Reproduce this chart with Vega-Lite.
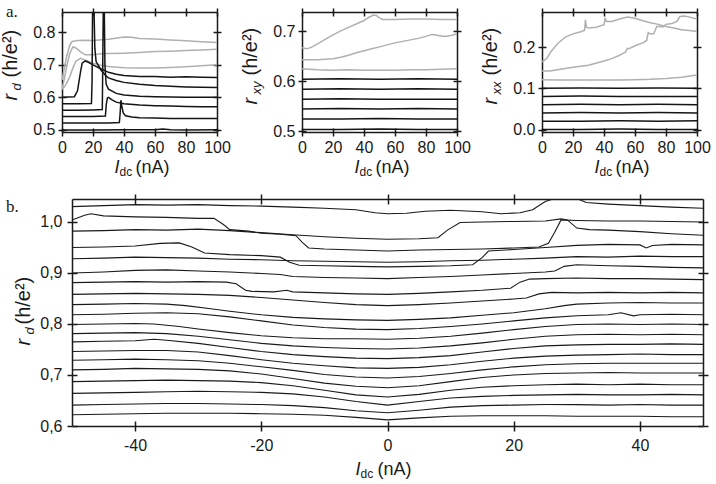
{
"$schema": "https://vega.github.io/schema/vega-lite/v6.json",
"padding": {"left": 0, "top": 3, "right": 5, "bottom": 0},
"background": "white",
"config": {
 "view": {"stroke": null},
 "font": "Liberation Sans",
 "axis": {"grid": false, "domainColor": "#1a1a1a", "domainWidth": 1.5, "tickColor": "#1a1a1a", "tickWidth": 1.5, "labelFont": "Liberation Sans", "labelFontSize": 16, "labelColor": "#1a1a1a", "titleFont": "Liberation Sans", "titleFontSize": 18, "titleFontWeight": "normal", "titleColor": "#1a1a1a", "titleAlign": "left", "titleBaseline": "alphabetic", "labelFlush": false, "labelOverlap": false}
},
"datasets": {
 "a1": [
  {"s":1,"grp":"upper","x":0,"y":0.653},{"s":1,"grp":"upper","x":1.5,"y":0.69},{"s":1,"grp":"upper","x":3,"y":0.726},{"s":1,"grp":"upper","x":5,"y":0.76},{"s":1,"grp":"upper","x":6.5,"y":0.772},{"s":1,"grp":"upper","x":10,"y":0.775},{"s":1,"grp":"upper","x":15,"y":0.776},{"s":1,"grp":"upper","x":20,"y":0.775},{"s":1,"grp":"upper","x":30,"y":0.779},{"s":1,"grp":"upper","x":40,"y":0.786},{"s":1,"grp":"upper","x":45,"y":0.785},{"s":1,"grp":"upper","x":50,"y":0.781},{"s":1,"grp":"upper","x":60,"y":0.78},{"s":1,"grp":"upper","x":70,"y":0.777},{"s":1,"grp":"upper","x":80,"y":0.774},{"s":1,"grp":"upper","x":90,"y":0.771},{"s":1,"grp":"upper","x":100,"y":0.769},
  {"s":2,"grp":"upper","x":0,"y":0.627},{"s":2,"grp":"upper","x":1.5,"y":0.655},{"s":2,"grp":"upper","x":3,"y":0.695},{"s":2,"grp":"upper","x":5,"y":0.735},{"s":2,"grp":"upper","x":7,"y":0.755},{"s":2,"grp":"upper","x":9,"y":0.752},{"s":2,"grp":"upper","x":12,"y":0.74},{"s":2,"grp":"upper","x":15,"y":0.731},{"s":2,"grp":"upper","x":20,"y":0.731},{"s":2,"grp":"upper","x":25,"y":0.734},{"s":2,"grp":"upper","x":30,"y":0.735},{"s":2,"grp":"upper","x":40,"y":0.736},{"s":2,"grp":"upper","x":50,"y":0.738},{"s":2,"grp":"upper","x":60,"y":0.741},{"s":2,"grp":"upper","x":70,"y":0.742},{"s":2,"grp":"upper","x":80,"y":0.744},{"s":2,"grp":"upper","x":90,"y":0.746},{"s":2,"grp":"upper","x":100,"y":0.748},
  {"s":3,"grp":"upper","x":0,"y":0.624},{"s":3,"grp":"upper","x":2,"y":0.635},{"s":3,"grp":"upper","x":5,"y":0.663},{"s":3,"grp":"upper","x":7,"y":0.69},{"s":3,"grp":"upper","x":9,"y":0.712},{"s":3,"grp":"upper","x":12,"y":0.72},{"s":3,"grp":"upper","x":16,"y":0.713},{"s":3,"grp":"upper","x":20,"y":0.705},{"s":3,"grp":"upper","x":25,"y":0.699},{"s":3,"grp":"upper","x":30,"y":0.695},{"s":3,"grp":"upper","x":40,"y":0.691},{"s":3,"grp":"upper","x":50,"y":0.69},{"s":3,"grp":"upper","x":60,"y":0.69},{"s":3,"grp":"upper","x":70,"y":0.692},{"s":3,"grp":"upper","x":80,"y":0.694},{"s":3,"grp":"upper","x":90,"y":0.697},{"s":3,"grp":"upper","x":100,"y":0.7},
  {"s":4,"grp":"lower","x":0,"y":0.6},{"s":4,"grp":"lower","x":4,"y":0.601},{"s":4,"grp":"lower","x":8,"y":0.602},{"s":4,"grp":"lower","x":10,"y":0.62},{"s":4,"grp":"lower","x":12,"y":0.68},{"s":4,"grp":"lower","x":13,"y":0.705},{"s":4,"grp":"lower","x":15,"y":0.712},{"s":4,"grp":"lower","x":17,"y":0.708},{"s":4,"grp":"lower","x":20,"y":0.7},{"s":4,"grp":"lower","x":25,"y":0.688},{"s":4,"grp":"lower","x":30,"y":0.677},{"s":4,"grp":"lower","x":35,"y":0.671},{"s":4,"grp":"lower","x":40,"y":0.667},{"s":4,"grp":"lower","x":50,"y":0.664},{"s":4,"grp":"lower","x":60,"y":0.664},{"s":4,"grp":"lower","x":70,"y":0.662},{"s":4,"grp":"lower","x":80,"y":0.663},{"s":4,"grp":"lower","x":90,"y":0.662},{"s":4,"grp":"lower","x":100,"y":0.661},
  {"s":5,"grp":"lower","x":0,"y":0.58},{"s":5,"grp":"lower","x":10,"y":0.58},{"s":5,"grp":"lower","x":19,"y":0.581},{"s":5,"grp":"lower","x":19.4,"y":0.65},{"s":5,"grp":"lower","x":19.7,"y":0.86},{"s":5,"grp":"lower","x":20.7,"y":0.86},{"s":5,"grp":"lower","x":21.2,"y":0.75},{"s":5,"grp":"lower","x":22,"y":0.71},{"s":5,"grp":"lower","x":25,"y":0.685},{"s":5,"grp":"lower","x":28,"y":0.668},{"s":5,"grp":"lower","x":30,"y":0.66},{"s":5,"grp":"lower","x":35,"y":0.652},{"s":5,"grp":"lower","x":40,"y":0.646},{"s":5,"grp":"lower","x":50,"y":0.64},{"s":5,"grp":"lower","x":60,"y":0.636},{"s":5,"grp":"lower","x":70,"y":0.634},{"s":5,"grp":"lower","x":80,"y":0.632},{"s":5,"grp":"lower","x":90,"y":0.631},{"s":5,"grp":"lower","x":100,"y":0.63},
  {"s":6,"grp":"lower","x":0,"y":0.56},{"s":6,"grp":"lower","x":10,"y":0.56},{"s":6,"grp":"lower","x":20,"y":0.561},{"s":6,"grp":"lower","x":26,"y":0.562},{"s":6,"grp":"lower","x":26.3,"y":0.7},{"s":6,"grp":"lower","x":26.6,"y":0.86},{"s":6,"grp":"lower","x":27.3,"y":0.86},{"s":6,"grp":"lower","x":27.7,"y":0.7},{"s":6,"grp":"lower","x":28.5,"y":0.64},{"s":6,"grp":"lower","x":30,"y":0.625},{"s":6,"grp":"lower","x":35,"y":0.612},{"s":6,"grp":"lower","x":40,"y":0.607},{"s":6,"grp":"lower","x":50,"y":0.603},{"s":6,"grp":"lower","x":60,"y":0.602},{"s":6,"grp":"lower","x":70,"y":0.601},{"s":6,"grp":"lower","x":80,"y":0.6},{"s":6,"grp":"lower","x":90,"y":0.6},{"s":6,"grp":"lower","x":100,"y":0.6},
  {"s":7,"grp":"lower","x":0,"y":0.541},{"s":7,"grp":"lower","x":10,"y":0.541},{"s":7,"grp":"lower","x":20,"y":0.541},{"s":7,"grp":"lower","x":28,"y":0.542},{"s":7,"grp":"lower","x":28.6,"y":0.58},{"s":7,"grp":"lower","x":29.3,"y":0.598},{"s":7,"grp":"lower","x":30,"y":0.6},{"s":7,"grp":"lower","x":32,"y":0.593},{"s":7,"grp":"lower","x":35,"y":0.585},{"s":7,"grp":"lower","x":40,"y":0.58},{"s":7,"grp":"lower","x":50,"y":0.576},{"s":7,"grp":"lower","x":60,"y":0.574},{"s":7,"grp":"lower","x":70,"y":0.573},{"s":7,"grp":"lower","x":80,"y":0.572},{"s":7,"grp":"lower","x":90,"y":0.571},{"s":7,"grp":"lower","x":100,"y":0.571},
  {"s":8,"grp":"lower","x":0,"y":0.521},{"s":8,"grp":"lower","x":10,"y":0.521},{"s":8,"grp":"lower","x":20,"y":0.521},{"s":8,"grp":"lower","x":30,"y":0.521},{"s":8,"grp":"lower","x":37,"y":0.522},{"s":8,"grp":"lower","x":37.5,"y":0.55},{"s":8,"grp":"lower","x":38,"y":0.591},{"s":8,"grp":"lower","x":38.5,"y":0.575},{"s":8,"grp":"lower","x":39.5,"y":0.552},{"s":8,"grp":"lower","x":41,"y":0.543},{"s":8,"grp":"lower","x":45,"y":0.539},{"s":8,"grp":"lower","x":50,"y":0.537},{"s":8,"grp":"lower","x":60,"y":0.536},{"s":8,"grp":"lower","x":70,"y":0.535},{"s":8,"grp":"lower","x":80,"y":0.535},{"s":8,"grp":"lower","x":90,"y":0.535},{"s":8,"grp":"lower","x":100,"y":0.535},
  {"s":9,"grp":"lower","x":0,"y":0.499},{"s":9,"grp":"lower","x":20,"y":0.499},{"s":9,"grp":"lower","x":40,"y":0.5},{"s":9,"grp":"lower","x":60,"y":0.5},{"s":9,"grp":"lower","x":65,"y":0.502},{"s":9,"grp":"lower","x":70,"y":0.5},{"s":9,"grp":"lower","x":80,"y":0.499},{"s":9,"grp":"lower","x":100,"y":0.5}
 ],
 "a2": [
  {"s":1,"grp":"upper","x":0,"y":0.667},{"s":1,"grp":"upper","x":3,"y":0.665},{"s":1,"grp":"upper","x":6,"y":0.668},{"s":1,"grp":"upper","x":10,"y":0.675},{"s":1,"grp":"upper","x":15,"y":0.684},{"s":1,"grp":"upper","x":20,"y":0.693},{"s":1,"grp":"upper","x":25,"y":0.701},{"s":1,"grp":"upper","x":30,"y":0.708},{"s":1,"grp":"upper","x":35,"y":0.715},{"s":1,"grp":"upper","x":40,"y":0.722},{"s":1,"grp":"upper","x":43,"y":0.728},{"s":1,"grp":"upper","x":46,"y":0.733},{"s":1,"grp":"upper","x":48,"y":0.732},{"s":1,"grp":"upper","x":50,"y":0.727},{"s":1,"grp":"upper","x":52,"y":0.724},{"s":1,"grp":"upper","x":60,"y":0.724},{"s":1,"grp":"upper","x":70,"y":0.725},{"s":1,"grp":"upper","x":80,"y":0.725},{"s":1,"grp":"upper","x":90,"y":0.724},{"s":1,"grp":"upper","x":100,"y":0.724},
  {"s":2,"grp":"upper","x":0,"y":0.643},{"s":2,"grp":"upper","x":5,"y":0.643},{"s":2,"grp":"upper","x":10,"y":0.643},{"s":2,"grp":"upper","x":15,"y":0.644},{"s":2,"grp":"upper","x":20,"y":0.645},{"s":2,"grp":"upper","x":25,"y":0.648},{"s":2,"grp":"upper","x":30,"y":0.652},{"s":2,"grp":"upper","x":35,"y":0.657},{"s":2,"grp":"upper","x":40,"y":0.661},{"s":2,"grp":"upper","x":45,"y":0.665},{"s":2,"grp":"upper","x":50,"y":0.669},{"s":2,"grp":"upper","x":55,"y":0.673},{"s":2,"grp":"upper","x":60,"y":0.677},{"s":2,"grp":"upper","x":65,"y":0.68},{"s":2,"grp":"upper","x":70,"y":0.683},{"s":2,"grp":"upper","x":75,"y":0.686},{"s":2,"grp":"upper","x":80,"y":0.69},{"s":2,"grp":"upper","x":84,"y":0.694},{"s":2,"grp":"upper","x":88,"y":0.692},{"s":2,"grp":"upper","x":92,"y":0.69},{"s":2,"grp":"upper","x":96,"y":0.692},{"s":2,"grp":"upper","x":100,"y":0.695},
  {"s":3,"grp":"upper","x":0,"y":0.625},{"s":3,"grp":"upper","x":5,"y":0.624},{"s":3,"grp":"upper","x":10,"y":0.623},{"s":3,"grp":"upper","x":20,"y":0.622},{"s":3,"grp":"upper","x":30,"y":0.623},{"s":3,"grp":"upper","x":40,"y":0.622},{"s":3,"grp":"upper","x":50,"y":0.622},{"s":3,"grp":"upper","x":60,"y":0.622},{"s":3,"grp":"upper","x":70,"y":0.623},{"s":3,"grp":"upper","x":80,"y":0.623},{"s":3,"grp":"upper","x":90,"y":0.624},{"s":3,"grp":"upper","x":100,"y":0.625},
  {"s":4,"grp":"lower","x":0,"y":0.604},{"s":4,"grp":"lower","x":25,"y":0.605},{"s":4,"grp":"lower","x":50,"y":0.604},{"s":4,"grp":"lower","x":75,"y":0.605},{"s":4,"grp":"lower","x":100,"y":0.604},
  {"s":5,"grp":"lower","x":0,"y":0.584},{"s":5,"grp":"lower","x":25,"y":0.585},{"s":5,"grp":"lower","x":50,"y":0.584},{"s":5,"grp":"lower","x":75,"y":0.585},{"s":5,"grp":"lower","x":100,"y":0.584},
  {"s":6,"grp":"lower","x":0,"y":0.564},{"s":6,"grp":"lower","x":25,"y":0.565},{"s":6,"grp":"lower","x":50,"y":0.564},{"s":6,"grp":"lower","x":75,"y":0.564},{"s":6,"grp":"lower","x":100,"y":0.564},
  {"s":7,"grp":"lower","x":0,"y":0.544},{"s":7,"grp":"lower","x":25,"y":0.545},{"s":7,"grp":"lower","x":50,"y":0.544},{"s":7,"grp":"lower","x":75,"y":0.545},{"s":7,"grp":"lower","x":100,"y":0.544},
  {"s":8,"grp":"lower","x":0,"y":0.524},{"s":8,"grp":"lower","x":25,"y":0.524},{"s":8,"grp":"lower","x":50,"y":0.525},{"s":8,"grp":"lower","x":75,"y":0.524},{"s":8,"grp":"lower","x":100,"y":0.524},
  {"s":9,"grp":"lower","x":0,"y":0.503},{"s":9,"grp":"lower","x":25,"y":0.503},{"s":9,"grp":"lower","x":50,"y":0.504},{"s":9,"grp":"lower","x":75,"y":0.503},{"s":9,"grp":"lower","x":100,"y":0.503}
 ],
 "a3": [
  {"s":1,"grp":"upper","x":0,"y":0.164},{"s":1,"grp":"upper","x":3,"y":0.172},{"s":1,"grp":"upper","x":6,"y":0.19},{"s":1,"grp":"upper","x":10,"y":0.208},{"s":1,"grp":"upper","x":15,"y":0.224},{"s":1,"grp":"upper","x":20,"y":0.232},{"s":1,"grp":"upper","x":25,"y":0.237},{"s":1,"grp":"upper","x":27.5,"y":0.241},{"s":1,"grp":"upper","x":28,"y":0.266},{"s":1,"grp":"upper","x":28.7,"y":0.248},{"s":1,"grp":"upper","x":30,"y":0.246},{"s":1,"grp":"upper","x":35,"y":0.248},{"s":1,"grp":"upper","x":40,"y":0.254},{"s":1,"grp":"upper","x":40.7,"y":0.271},{"s":1,"grp":"upper","x":41.5,"y":0.262},{"s":1,"grp":"upper","x":45,"y":0.262},{"s":1,"grp":"upper","x":50,"y":0.268},{"s":1,"grp":"upper","x":55,"y":0.273},{"s":1,"grp":"upper","x":60,"y":0.27},{"s":1,"grp":"upper","x":65,"y":0.264},{"s":1,"grp":"upper","x":70,"y":0.259},{"s":1,"grp":"upper","x":75,"y":0.255},{"s":1,"grp":"upper","x":80,"y":0.25},{"s":1,"grp":"upper","x":85,"y":0.246},{"s":1,"grp":"upper","x":90,"y":0.242},{"s":1,"grp":"upper","x":95,"y":0.24},{"s":1,"grp":"upper","x":100,"y":0.238},
  {"s":2,"grp":"upper","x":0,"y":0.142},{"s":2,"grp":"upper","x":5,"y":0.142},{"s":2,"grp":"upper","x":10,"y":0.145},{"s":2,"grp":"upper","x":20,"y":0.151},{"s":2,"grp":"upper","x":30,"y":0.156},{"s":2,"grp":"upper","x":40,"y":0.166},{"s":2,"grp":"upper","x":45,"y":0.172},{"s":2,"grp":"upper","x":50,"y":0.18},{"s":2,"grp":"upper","x":54,"y":0.188},{"s":2,"grp":"upper","x":55,"y":0.197},{"s":2,"grp":"upper","x":56,"y":0.196},{"s":2,"grp":"upper","x":60,"y":0.203},{"s":2,"grp":"upper","x":65,"y":0.21},{"s":2,"grp":"upper","x":67.5,"y":0.216},{"s":2,"grp":"upper","x":68.5,"y":0.235},{"s":2,"grp":"upper","x":69.5,"y":0.232},{"s":2,"grp":"upper","x":72,"y":0.232},{"s":2,"grp":"upper","x":73,"y":0.24},{"s":2,"grp":"upper","x":74,"y":0.25},{"s":2,"grp":"upper","x":76,"y":0.25},{"s":2,"grp":"upper","x":78,"y":0.249},{"s":2,"grp":"upper","x":80,"y":0.255},{"s":2,"grp":"upper","x":84,"y":0.257},{"s":2,"grp":"upper","x":87,"y":0.262},{"s":2,"grp":"upper","x":89,"y":0.274},{"s":2,"grp":"upper","x":92,"y":0.275},{"s":2,"grp":"upper","x":96,"y":0.272},{"s":2,"grp":"upper","x":100,"y":0.268},
  {"s":3,"grp":"upper","x":0,"y":0.121},{"s":3,"grp":"upper","x":10,"y":0.12},{"s":3,"grp":"upper","x":20,"y":0.12},{"s":3,"grp":"upper","x":30,"y":0.12},{"s":3,"grp":"upper","x":40,"y":0.12},{"s":3,"grp":"upper","x":50,"y":0.12},{"s":3,"grp":"upper","x":60,"y":0.121},{"s":3,"grp":"upper","x":70,"y":0.122},{"s":3,"grp":"upper","x":80,"y":0.124},{"s":3,"grp":"upper","x":90,"y":0.127},{"s":3,"grp":"upper","x":100,"y":0.132},
  {"s":4,"grp":"lower","x":0,"y":0.1},{"s":4,"grp":"lower","x":25,"y":0.101},{"s":4,"grp":"lower","x":50,"y":0.1},{"s":4,"grp":"lower","x":75,"y":0.101},{"s":4,"grp":"lower","x":100,"y":0.1},
  {"s":5,"grp":"lower","x":0,"y":0.08},{"s":5,"grp":"lower","x":25,"y":0.081},{"s":5,"grp":"lower","x":50,"y":0.08},{"s":5,"grp":"lower","x":75,"y":0.08},{"s":5,"grp":"lower","x":100,"y":0.08},
  {"s":6,"grp":"lower","x":0,"y":0.06},{"s":6,"grp":"lower","x":25,"y":0.061},{"s":6,"grp":"lower","x":50,"y":0.06},{"s":6,"grp":"lower","x":75,"y":0.061},{"s":6,"grp":"lower","x":100,"y":0.06},
  {"s":7,"grp":"lower","x":0,"y":0.04},{"s":7,"grp":"lower","x":25,"y":0.041},{"s":7,"grp":"lower","x":50,"y":0.04},{"s":7,"grp":"lower","x":75,"y":0.041},{"s":7,"grp":"lower","x":100,"y":0.04},
  {"s":8,"grp":"lower","x":0,"y":0.02},{"s":8,"grp":"lower","x":25,"y":0.02},{"s":8,"grp":"lower","x":50,"y":0.021},{"s":8,"grp":"lower","x":75,"y":0.02},{"s":8,"grp":"lower","x":100,"y":0.021},
  {"s":9,"grp":"lower","x":0,"y":0},{"s":9,"grp":"lower","x":25,"y":0},{"s":9,"grp":"lower","x":50,"y":0.001},{"s":9,"grp":"lower","x":75,"y":0},{"s":9,"grp":"lower","x":100,"y":0}
 ],
 "b": [
  {"s":1,"x":-50,"y":1.03},{"s":1,"x":-45,"y":1.032},{"s":1,"x":-40,"y":1.034},{"s":1,"x":-35,"y":1.033},{"s":1,"x":-30,"y":1.034},{"s":1,"x":-25,"y":1.032},{"s":1,"x":-20,"y":1.031},{"s":1,"x":-15,"y":1.029},{"s":1,"x":-10,"y":1.027},{"s":1,"x":-5,"y":1.024},{"s":1,"x":-2,"y":1.018},{"s":1,"x":0,"y":1.016},{"s":1,"x":3,"y":1.017},{"s":1,"x":6,"y":1.021},{"s":1,"x":10,"y":1.023},{"s":1,"x":15,"y":1.02},{"s":1,"x":18,"y":1.016},{"s":1,"x":21,"y":1.018},{"s":1,"x":23,"y":1.024},{"s":1,"x":25,"y":1.04},{"s":1,"x":26.5,"y":1.046},{"s":1,"x":30,"y":1.046},{"s":1,"x":31.5,"y":1.038},{"s":1,"x":35,"y":1.035},{"s":1,"x":40,"y":1.032},{"s":1,"x":45,"y":1.029},{"s":1,"x":50,"y":1.027},
  {"s":2,"x":-50,"y":1.004},{"s":2,"x":-48,"y":1.013},{"s":2,"x":-47,"y":1.016},{"s":2,"x":-45,"y":1.012},{"s":2,"x":-40,"y":1.01},{"s":2,"x":-35,"y":1.009},{"s":2,"x":-30,"y":1.007},{"s":2,"x":-27.5,"y":1.007},{"s":2,"x":-26,"y":0.995},{"s":2,"x":-25,"y":0.985},{"s":2,"x":-22,"y":0.982},{"s":2,"x":-20,"y":0.978},{"s":2,"x":-17,"y":0.976},{"s":2,"x":-14.5,"y":0.973},{"s":2,"x":-13.5,"y":0.96},{"s":2,"x":-12.5,"y":0.949},{"s":2,"x":-10,"y":0.947},{"s":2,"x":-5,"y":0.945},{"s":2,"x":0,"y":0.943},{"s":2,"x":5,"y":0.945},{"s":2,"x":10,"y":0.946},{"s":2,"x":15,"y":0.947},{"s":2,"x":20,"y":0.949},{"s":2,"x":24,"y":0.951},{"s":2,"x":25.5,"y":0.958},{"s":2,"x":26.5,"y":0.98},{"s":2,"x":27.5,"y":1.004},{"s":2,"x":30,"y":1.003},{"s":2,"x":35,"y":1.002},{"s":2,"x":40,"y":1.002},{"s":2,"x":45,"y":1.001},{"s":2,"x":50,"y":1.0},
  {"s":3,"x":-50,"y":0.982},{"s":3,"x":-45,"y":0.983},{"s":3,"x":-40,"y":0.985},{"s":3,"x":-35,"y":0.984},{"s":3,"x":-30,"y":0.986},{"s":3,"x":-25,"y":0.983},{"s":3,"x":-20,"y":0.979},{"s":3,"x":-15,"y":0.975},{"s":3,"x":-10,"y":0.971},{"s":3,"x":-5,"y":0.968},{"s":3,"x":0,"y":0.966},{"s":3,"x":5,"y":0.967},{"s":3,"x":8,"y":0.969},{"s":3,"x":9.5,"y":0.984},{"s":3,"x":11.5,"y":0.999},{"s":3,"x":15,"y":1.0},{"s":3,"x":20,"y":1.001},{"s":3,"x":25,"y":1.002},{"s":3,"x":27.5,"y":1.006},{"s":3,"x":28.5,"y":1.004},{"s":3,"x":30,"y":0.988},{"s":3,"x":32,"y":0.985},{"s":3,"x":35,"y":0.984},{"s":3,"x":40,"y":0.981},{"s":3,"x":45,"y":0.977},{"s":3,"x":50,"y":0.974},
  {"s":4,"x":-50,"y":0.95},{"s":4,"x":-45,"y":0.951},{"s":4,"x":-40,"y":0.953},{"s":4,"x":-36,"y":0.958},{"s":4,"x":-33,"y":0.959},{"s":4,"x":-31,"y":0.951},{"s":4,"x":-29,"y":0.939},{"s":4,"x":-25,"y":0.936},{"s":4,"x":-20,"y":0.934},{"s":4,"x":-17,"y":0.931},{"s":4,"x":-15.5,"y":0.921},{"s":4,"x":-14,"y":0.915},{"s":4,"x":-10,"y":0.914},{"s":4,"x":-5,"y":0.913},{"s":4,"x":0,"y":0.912},{"s":4,"x":5,"y":0.913},{"s":4,"x":10,"y":0.914},{"s":4,"x":13.5,"y":0.916},{"s":4,"x":15,"y":0.93},{"s":4,"x":16,"y":0.943},{"s":4,"x":20,"y":0.946},{"s":4,"x":25,"y":0.95},{"s":4,"x":30,"y":0.954},{"s":4,"x":35,"y":0.956},{"s":4,"x":40,"y":0.955},{"s":4,"x":41,"y":0.949},{"s":4,"x":42,"y":0.954},{"s":4,"x":45,"y":0.956},{"s":4,"x":50,"y":0.955},
  {"s":5,"x":-50,"y":0.928},{"s":5,"x":-45,"y":0.929},{"s":5,"x":-40,"y":0.931},{"s":5,"x":-35,"y":0.93},{"s":5,"x":-30,"y":0.929},{"s":5,"x":-25,"y":0.927},{"s":5,"x":-20,"y":0.926},{"s":5,"x":-15,"y":0.924},{"s":5,"x":-10,"y":0.923},{"s":5,"x":-5,"y":0.922},{"s":5,"x":0,"y":0.921},{"s":5,"x":5,"y":0.922},{"s":5,"x":10,"y":0.924},{"s":5,"x":15,"y":0.925},{"s":5,"x":20,"y":0.927},{"s":5,"x":25,"y":0.929},{"s":5,"x":30,"y":0.932},{"s":5,"x":35,"y":0.931},{"s":5,"x":40,"y":0.933},{"s":5,"x":45,"y":0.932},{"s":5,"x":50,"y":0.932},
  {"s":6,"x":-50,"y":0.9},{"s":6,"x":-45,"y":0.902},{"s":6,"x":-40,"y":0.905},{"s":6,"x":-35,"y":0.906},{"s":6,"x":-30,"y":0.904},{"s":6,"x":-25,"y":0.902},{"s":6,"x":-20,"y":0.899},{"s":6,"x":-17,"y":0.897},{"s":6,"x":-15,"y":0.893},{"s":6,"x":-10,"y":0.891},{"s":6,"x":-5,"y":0.89},{"s":6,"x":0,"y":0.889},{"s":6,"x":5,"y":0.891},{"s":6,"x":10,"y":0.893},{"s":6,"x":15,"y":0.896},{"s":6,"x":20,"y":0.899},{"s":6,"x":25,"y":0.902},{"s":6,"x":26.5,"y":0.904},{"s":6,"x":28,"y":0.913},{"s":6,"x":30,"y":0.916},{"s":6,"x":35,"y":0.914},{"s":6,"x":40,"y":0.913},{"s":6,"x":45,"y":0.911},{"s":6,"x":50,"y":0.91},
  {"s":7,"x":-50,"y":0.881},{"s":7,"x":-45,"y":0.882},{"s":7,"x":-40,"y":0.883},{"s":7,"x":-35,"y":0.882},{"s":7,"x":-30,"y":0.883},{"s":7,"x":-25.5,"y":0.882},{"s":7,"x":-24,"y":0.879},{"s":7,"x":-22.5,"y":0.866},{"s":7,"x":-21.5,"y":0.864},{"s":7,"x":-18,"y":0.863},{"s":7,"x":-16,"y":0.866},{"s":7,"x":-15,"y":0.863},{"s":7,"x":-10,"y":0.861},{"s":7,"x":-5,"y":0.859},{"s":7,"x":0,"y":0.858},{"s":7,"x":5,"y":0.86},{"s":7,"x":10,"y":0.863},{"s":7,"x":15,"y":0.866},{"s":7,"x":19.5,"y":0.87},{"s":7,"x":21,"y":0.882},{"s":7,"x":22.5,"y":0.888},{"s":7,"x":25,"y":0.889},{"s":7,"x":30,"y":0.89},{"s":7,"x":35,"y":0.889},{"s":7,"x":40,"y":0.889},{"s":7,"x":45,"y":0.888},{"s":7,"x":50,"y":0.887},
  {"s":8,"x":-50,"y":0.858},{"s":8,"x":-45,"y":0.859},{"s":8,"x":-40,"y":0.86},{"s":8,"x":-35,"y":0.859},{"s":8,"x":-30,"y":0.858},{"s":8,"x":-25,"y":0.856},{"s":8,"x":-20,"y":0.852},{"s":8,"x":-15,"y":0.847},{"s":8,"x":-10,"y":0.842},{"s":8,"x":-5,"y":0.838},{"s":8,"x":0,"y":0.836},{"s":8,"x":5,"y":0.838},{"s":8,"x":10,"y":0.841},{"s":8,"x":15,"y":0.845},{"s":8,"x":20,"y":0.849},{"s":8,"x":22,"y":0.851},{"s":8,"x":24,"y":0.859},{"s":8,"x":26,"y":0.862},{"s":8,"x":30,"y":0.861},{"s":8,"x":35,"y":0.862},{"s":8,"x":40,"y":0.861},{"s":8,"x":45,"y":0.862},{"s":8,"x":50,"y":0.861},
  {"s":9,"x":-50,"y":0.838},{"s":9,"x":-45,"y":0.839},{"s":9,"x":-40,"y":0.84},{"s":9,"x":-35,"y":0.839},{"s":9,"x":-32,"y":0.836},{"s":9,"x":-28,"y":0.83},{"s":9,"x":-25,"y":0.825},{"s":9,"x":-20,"y":0.818},{"s":9,"x":-15,"y":0.813},{"s":9,"x":-10,"y":0.81},{"s":9,"x":-5,"y":0.808},{"s":9,"x":0,"y":0.807},{"s":9,"x":5,"y":0.809},{"s":9,"x":10,"y":0.812},{"s":9,"x":15,"y":0.817},{"s":9,"x":20,"y":0.822},{"s":9,"x":25,"y":0.83},{"s":9,"x":28,"y":0.836},{"s":9,"x":30,"y":0.839},{"s":9,"x":35,"y":0.841},{"s":9,"x":40,"y":0.842},{"s":9,"x":45,"y":0.841},{"s":9,"x":50,"y":0.841},
  {"s":10,"x":-50,"y":0.818},{"s":10,"x":-45,"y":0.819},{"s":10,"x":-40,"y":0.821},{"s":10,"x":-35,"y":0.822},{"s":10,"x":-30,"y":0.82},{"s":10,"x":-25,"y":0.814},{"s":10,"x":-20,"y":0.806},{"s":10,"x":-15,"y":0.798},{"s":10,"x":-10,"y":0.793},{"s":10,"x":-5,"y":0.79},{"s":10,"x":0,"y":0.789},{"s":10,"x":5,"y":0.791},{"s":10,"x":10,"y":0.795},{"s":10,"x":15,"y":0.8},{"s":10,"x":20,"y":0.806},{"s":10,"x":25,"y":0.812},{"s":10,"x":30,"y":0.816},{"s":10,"x":35,"y":0.818},{"s":10,"x":37,"y":0.822},{"s":10,"x":39,"y":0.816},{"s":10,"x":40,"y":0.818},{"s":10,"x":45,"y":0.819},{"s":10,"x":50,"y":0.818},
  {"s":11,"x":-50,"y":0.799},{"s":11,"x":-45,"y":0.8},{"s":11,"x":-40,"y":0.801},{"s":11,"x":-37,"y":0.8},{"s":11,"x":-33,"y":0.795},{"s":11,"x":-30,"y":0.79},{"s":11,"x":-25,"y":0.783},{"s":11,"x":-20,"y":0.777},{"s":11,"x":-15,"y":0.773},{"s":11,"x":-10,"y":0.771},{"s":11,"x":-5,"y":0.771},{"s":11,"x":0,"y":0.77},{"s":11,"x":5,"y":0.772},{"s":11,"x":10,"y":0.776},{"s":11,"x":15,"y":0.782},{"s":11,"x":20,"y":0.789},{"s":11,"x":25,"y":0.795},{"s":11,"x":30,"y":0.799},{"s":11,"x":35,"y":0.8},{"s":11,"x":40,"y":0.799},{"s":11,"x":45,"y":0.8},{"s":11,"x":50,"y":0.799},
  {"s":12,"x":-50,"y":0.781},{"s":12,"x":-45,"y":0.782},{"s":12,"x":-40,"y":0.783},{"s":12,"x":-35,"y":0.781},{"s":12,"x":-30,"y":0.776},{"s":12,"x":-25,"y":0.769},{"s":12,"x":-20,"y":0.762},{"s":12,"x":-15,"y":0.757},{"s":12,"x":-10,"y":0.754},{"s":12,"x":-5,"y":0.752},{"s":12,"x":0,"y":0.751},{"s":12,"x":5,"y":0.753},{"s":12,"x":10,"y":0.757},{"s":12,"x":15,"y":0.763},{"s":12,"x":20,"y":0.77},{"s":12,"x":25,"y":0.776},{"s":12,"x":30,"y":0.779},{"s":12,"x":35,"y":0.78},{"s":12,"x":40,"y":0.779},{"s":12,"x":45,"y":0.78},{"s":12,"x":50,"y":0.779},
  {"s":13,"x":-50,"y":0.765},{"s":13,"x":-45,"y":0.766},{"s":13,"x":-40,"y":0.767},{"s":13,"x":-37,"y":0.77},{"s":13,"x":-35,"y":0.768},{"s":13,"x":-30,"y":0.762},{"s":13,"x":-25,"y":0.754},{"s":13,"x":-20,"y":0.746},{"s":13,"x":-15,"y":0.74},{"s":13,"x":-10,"y":0.736},{"s":13,"x":-5,"y":0.733},{"s":13,"x":0,"y":0.732},{"s":13,"x":5,"y":0.734},{"s":13,"x":10,"y":0.738},{"s":13,"x":15,"y":0.745},{"s":13,"x":20,"y":0.752},{"s":13,"x":25,"y":0.757},{"s":13,"x":30,"y":0.759},{"s":13,"x":35,"y":0.76},{"s":13,"x":40,"y":0.76},{"s":13,"x":45,"y":0.761},{"s":13,"x":50,"y":0.76},
  {"s":14,"x":-50,"y":0.746},{"s":14,"x":-45,"y":0.747},{"s":14,"x":-40,"y":0.748},{"s":14,"x":-35,"y":0.748},{"s":14,"x":-30,"y":0.745},{"s":14,"x":-25,"y":0.738},{"s":14,"x":-20,"y":0.73},{"s":14,"x":-15,"y":0.723},{"s":14,"x":-10,"y":0.718},{"s":14,"x":-5,"y":0.714},{"s":14,"x":0,"y":0.713},{"s":14,"x":5,"y":0.715},{"s":14,"x":10,"y":0.72},{"s":14,"x":15,"y":0.727},{"s":14,"x":20,"y":0.733},{"s":14,"x":25,"y":0.737},{"s":14,"x":30,"y":0.739},{"s":14,"x":35,"y":0.74},{"s":14,"x":40,"y":0.741},{"s":14,"x":45,"y":0.74},{"s":14,"x":50,"y":0.74},
  {"s":15,"x":-50,"y":0.729},{"s":15,"x":-45,"y":0.73},{"s":15,"x":-40,"y":0.731},{"s":15,"x":-35,"y":0.73},{"s":15,"x":-30,"y":0.728},{"s":15,"x":-25,"y":0.723},{"s":15,"x":-20,"y":0.716},{"s":15,"x":-15,"y":0.709},{"s":15,"x":-10,"y":0.701},{"s":15,"x":-5,"y":0.696},{"s":15,"x":0,"y":0.694},{"s":15,"x":5,"y":0.697},{"s":15,"x":10,"y":0.703},{"s":15,"x":15,"y":0.71},{"s":15,"x":20,"y":0.716},{"s":15,"x":25,"y":0.72},{"s":15,"x":30,"y":0.722},{"s":15,"x":35,"y":0.723},{"s":15,"x":40,"y":0.723},{"s":15,"x":45,"y":0.723},{"s":15,"x":50,"y":0.723},
  {"s":16,"x":-50,"y":0.71},{"s":16,"x":-45,"y":0.711},{"s":16,"x":-40,"y":0.713},{"s":16,"x":-35,"y":0.712},{"s":16,"x":-30,"y":0.711},{"s":16,"x":-25,"y":0.708},{"s":16,"x":-20,"y":0.702},{"s":16,"x":-15,"y":0.693},{"s":16,"x":-10,"y":0.684},{"s":16,"x":-5,"y":0.678},{"s":16,"x":0,"y":0.675},{"s":16,"x":5,"y":0.679},{"s":16,"x":10,"y":0.687},{"s":16,"x":15,"y":0.695},{"s":16,"x":20,"y":0.7},{"s":16,"x":25,"y":0.703},{"s":16,"x":30,"y":0.704},{"s":16,"x":35,"y":0.705},{"s":16,"x":40,"y":0.704},{"s":16,"x":45,"y":0.704},{"s":16,"x":50,"y":0.704},
  {"s":17,"x":-50,"y":0.687},{"s":17,"x":-45,"y":0.688},{"s":17,"x":-40,"y":0.689},{"s":17,"x":-35,"y":0.69},{"s":17,"x":-30,"y":0.689},{"s":17,"x":-25,"y":0.688},{"s":17,"x":-20,"y":0.685},{"s":17,"x":-15,"y":0.679},{"s":17,"x":-10,"y":0.67},{"s":17,"x":-5,"y":0.661},{"s":17,"x":0,"y":0.657},{"s":17,"x":5,"y":0.662},{"s":17,"x":10,"y":0.67},{"s":17,"x":15,"y":0.676},{"s":17,"x":20,"y":0.679},{"s":17,"x":25,"y":0.681},{"s":17,"x":30,"y":0.682},{"s":17,"x":35,"y":0.681},{"s":17,"x":40,"y":0.682},{"s":17,"x":45,"y":0.681},{"s":17,"x":50,"y":0.681},
  {"s":18,"x":-50,"y":0.664},{"s":18,"x":-45,"y":0.665},{"s":18,"x":-40,"y":0.666},{"s":18,"x":-35,"y":0.667},{"s":18,"x":-30,"y":0.668},{"s":18,"x":-25,"y":0.667},{"s":18,"x":-20,"y":0.666},{"s":18,"x":-15,"y":0.663},{"s":18,"x":-10,"y":0.657},{"s":18,"x":-5,"y":0.648},{"s":18,"x":0,"y":0.641},{"s":18,"x":5,"y":0.648},{"s":18,"x":10,"y":0.655},{"s":18,"x":15,"y":0.658},{"s":18,"x":20,"y":0.66},{"s":18,"x":25,"y":0.661},{"s":18,"x":30,"y":0.662},{"s":18,"x":35,"y":0.661},{"s":18,"x":40,"y":0.661},{"s":18,"x":45,"y":0.662},{"s":18,"x":50,"y":0.661},
  {"s":19,"x":-50,"y":0.641},{"s":19,"x":-45,"y":0.642},{"s":19,"x":-40,"y":0.643},{"s":19,"x":-35,"y":0.644},{"s":19,"x":-30,"y":0.644},{"s":19,"x":-25,"y":0.643},{"s":19,"x":-20,"y":0.642},{"s":19,"x":-15,"y":0.64},{"s":19,"x":-10,"y":0.636},{"s":19,"x":-5,"y":0.63},{"s":19,"x":0,"y":0.626},{"s":19,"x":5,"y":0.631},{"s":19,"x":10,"y":0.637},{"s":19,"x":15,"y":0.64},{"s":19,"x":20,"y":0.641},{"s":19,"x":25,"y":0.642},{"s":19,"x":30,"y":0.642},{"s":19,"x":35,"y":0.641},{"s":19,"x":40,"y":0.642},{"s":19,"x":45,"y":0.641},{"s":19,"x":50,"y":0.641},
  {"s":20,"x":-50,"y":0.622},{"s":20,"x":-45,"y":0.623},{"s":20,"x":-40,"y":0.624},{"s":20,"x":-35,"y":0.625},{"s":20,"x":-30,"y":0.625},{"s":20,"x":-25,"y":0.625},{"s":20,"x":-20,"y":0.624},{"s":20,"x":-15,"y":0.623},{"s":20,"x":-10,"y":0.621},{"s":20,"x":-5,"y":0.617},{"s":20,"x":0,"y":0.612},{"s":20,"x":5,"y":0.616},{"s":20,"x":10,"y":0.619},{"s":20,"x":15,"y":0.62},{"s":20,"x":20,"y":0.62},{"s":20,"x":25,"y":0.62},{"s":20,"x":30,"y":0.619},{"s":20,"x":35,"y":0.619},{"s":20,"x":40,"y":0.619},{"s":20,"x":45,"y":0.618},{"s":20,"x":50,"y":0.618}
 ]
},
"vconcat": [
 {"hconcat": [
  {"width": 155, "height": 120, "data": {"name": "a1"},
   "title": {"text": "a.", "anchor": "start", "frame": "group", "dx": -56, "dy": 27, "offset": 0, "font": "Liberation Serif", "fontSize": 17, "fontWeight": "normal", "color": "#1a1a1a", "baseline": "alphabetic"},
   "layer": [
    {"mark": {"type": "line", "strokeWidth": 1.5, "clip": true},
     "encoding": {
      "x": {"field": "x", "type": "quantitative", "scale": {"domain": [0, 100], "nice": false, "zero": false}, "axis": {"orient": "bottom", "values": [0,20,40,60,80,100], "tickSize": 4, "labelPadding": 3, "title": "I", "titleFontStyle": "italic", "titleX": 52, "titleY": 40}},
      "y": {"field": "y", "type": "quantitative", "scale": {"domain": [0.493, 0.863], "nice": false, "zero": false}, "axis": {"orient": "left", "values": [0.5,0.6,0.7,0.8], "format": ".1f", "tickSize": 4, "labelPadding": 3, "title": "r", "titleFontSize": 20, "titleFontStyle": "italic", "titleAngle": 270, "titleX": -46, "titleY": 88}},
      "color": {"field": "grp", "type": "nominal", "scale": {"domain": ["upper", "lower"], "range": ["#b0b0b0", "#151515"]}, "legend": null},
      "detail": {"field": "s"}}},
    {"mark": {"type": "line", "strokeOpacity": 0},
     "encoding": {
      "x": {"field": "x", "type": "quantitative", "scale": {"domain": [0, 100], "nice": false, "zero": false}, "axis": {"orient": "bottom", "values": [0,20,40,60,80,100], "tickSize": -4, "labels": false, "domain": false, "title": "dc", "titleFontSize": 12, "titleX": 57, "titleY": 43}},
      "y": {"field": "y", "type": "quantitative", "scale": {"domain": [0.493, 0.863], "nice": false, "zero": false}, "axis": {"orient": "left", "values": [0.5,0.6,0.7,0.8], "tickSize": -4, "labels": false, "domain": false, "title": "d", "titleFontSize": 13, "titleFontStyle": "italic", "titleAngle": 270, "titleX": -42, "titleY": 78}},
      "detail": {"field": "s"}}},
    {"mark": {"type": "line", "strokeOpacity": 0},
     "encoding": {
      "x": {"field": "x", "type": "quantitative", "scale": {"domain": [0, 100], "nice": false, "zero": false}, "axis": {"orient": "top", "values": [0,20,40,60,80,100], "tickSize": 4, "labels": false, "title": "(nA)", "titleX": 73, "titleY": 160}},
      "y": {"field": "y", "type": "quantitative", "scale": {"domain": [0.493, 0.863], "nice": false, "zero": false}, "axis": {"orient": "right", "values": [0.5,0.6,0.7,0.8], "tickSize": 4, "labels": false, "title": "(h/e²)", "titleFontSize": 20, "titleAngle": 270, "titleX": -201, "titleY": 65}},
      "detail": {"field": "s"}}},
    {"mark": {"type": "line", "strokeOpacity": 0},
     "encoding": {
      "x": {"field": "x", "type": "quantitative", "scale": {"domain": [0, 100], "nice": false, "zero": false}, "axis": {"orient": "top", "values": [0,20,40,60,80,100], "tickSize": -4, "labels": false, "domain": false, "title": null}},
      "y": {"field": "y", "type": "quantitative", "scale": {"domain": [0.493, 0.863], "nice": false, "zero": false}, "axis": {"orient": "right", "values": [0.5,0.6,0.7,0.8], "tickSize": -4, "labels": false, "domain": false, "title": null}},
      "detail": {"field": "s"}}}
   ],
   "resolve": {"axis": {"x": "independent", "y": "independent"}}
  },
  {"width": 155, "height": 120, "data": {"name": "a2"},
   "layer": [
    {"mark": {"type": "line", "strokeWidth": 1.5, "clip": true},
     "encoding": {
      "x": {"field": "x", "type": "quantitative", "scale": {"domain": [0, 100], "nice": false, "zero": false}, "axis": {"orient": "bottom", "values": [0,20,40,60,80,100], "tickSize": 4, "labelPadding": 3, "title": "I", "titleFontStyle": "italic", "titleX": 52, "titleY": 40}},
      "y": {"field": "y", "type": "quantitative", "scale": {"domain": [0.498, 0.739], "nice": false, "zero": false}, "axis": {"orient": "left", "values": [0.5,0.6,0.7], "format": ".1f", "tickSize": 4, "labelPadding": 3, "title": "r", "titleFontSize": 20, "titleFontStyle": "italic", "titleAngle": 270, "titleX": -46, "titleY": 92}},
      "color": {"field": "grp", "type": "nominal", "scale": {"domain": ["upper", "lower"], "range": ["#b0b0b0", "#151515"]}, "legend": null},
      "detail": {"field": "s"}}},
    {"mark": {"type": "line", "strokeOpacity": 0},
     "encoding": {
      "x": {"field": "x", "type": "quantitative", "scale": {"domain": [0, 100], "nice": false, "zero": false}, "axis": {"orient": "bottom", "values": [0,20,40,60,80,100], "tickSize": -4, "labels": false, "domain": false, "title": "dc", "titleFontSize": 12, "titleX": 57, "titleY": 43}},
      "y": {"field": "y", "type": "quantitative", "scale": {"domain": [0.498, 0.739], "nice": false, "zero": false}, "axis": {"orient": "left", "values": [0.5,0.6,0.7], "tickSize": -4, "labels": false, "domain": false, "title": "xy", "titleFontSize": 13, "titleFontStyle": "italic", "titleAngle": 270, "titleX": -42, "titleY": 82}},
      "detail": {"field": "s"}}},
    {"mark": {"type": "line", "strokeOpacity": 0},
     "encoding": {
      "x": {"field": "x", "type": "quantitative", "scale": {"domain": [0, 100], "nice": false, "zero": false}, "axis": {"orient": "top", "values": [0,20,40,60,80,100], "tickSize": 4, "labels": false, "title": "(nA)", "titleX": 73, "titleY": 160}},
      "y": {"field": "y", "type": "quantitative", "scale": {"domain": [0.498, 0.739], "nice": false, "zero": false}, "axis": {"orient": "right", "values": [0.5,0.6,0.7], "tickSize": 4, "labels": false, "title": "(h/e²)", "titleFontSize": 20, "titleAngle": 270, "titleX": -201, "titleY": 63}},
      "detail": {"field": "s"}}},
    {"mark": {"type": "line", "strokeOpacity": 0},
     "encoding": {
      "x": {"field": "x", "type": "quantitative", "scale": {"domain": [0, 100], "nice": false, "zero": false}, "axis": {"orient": "top", "values": [0,20,40,60,80,100], "tickSize": -4, "labels": false, "domain": false, "title": null}},
      "y": {"field": "y", "type": "quantitative", "scale": {"domain": [0.498, 0.739], "nice": false, "zero": false}, "axis": {"orient": "right", "values": [0.5,0.6,0.7], "tickSize": -4, "labels": false, "domain": false, "title": null}},
      "detail": {"field": "s"}}}
   ],
   "resolve": {"axis": {"x": "independent", "y": "independent"}}
  },
  {"width": 155, "height": 120, "data": {"name": "a3"},
   "layer": [
    {"mark": {"type": "line", "strokeWidth": 1.5, "clip": true},
     "encoding": {
      "x": {"field": "x", "type": "quantitative", "scale": {"domain": [0, 100], "nice": false, "zero": false}, "axis": {"orient": "bottom", "values": [0,20,40,60,80,100], "tickSize": 4, "labelPadding": 3, "title": "I", "titleFontStyle": "italic", "titleX": 52, "titleY": 40}},
      "y": {"field": "y", "type": "quantitative", "scale": {"domain": [-0.006, 0.285], "nice": false, "zero": false}, "axis": {"orient": "left", "values": [0,0.1,0.2], "format": ".1f", "tickSize": 4, "labelPadding": 3, "title": "r", "titleFontSize": 20, "titleFontStyle": "italic", "titleAngle": 270, "titleX": -46, "titleY": 92}},
      "color": {"field": "grp", "type": "nominal", "scale": {"domain": ["upper", "lower"], "range": ["#b0b0b0", "#151515"]}, "legend": null},
      "detail": {"field": "s"}}},
    {"mark": {"type": "line", "strokeOpacity": 0},
     "encoding": {
      "x": {"field": "x", "type": "quantitative", "scale": {"domain": [0, 100], "nice": false, "zero": false}, "axis": {"orient": "bottom", "values": [0,20,40,60,80,100], "tickSize": -4, "labels": false, "domain": false, "title": "dc", "titleFontSize": 12, "titleX": 57, "titleY": 43}},
      "y": {"field": "y", "type": "quantitative", "scale": {"domain": [-0.006, 0.285], "nice": false, "zero": false}, "axis": {"orient": "left", "values": [0,0.1,0.2], "tickSize": -4, "labels": false, "domain": false, "title": "xx", "titleFontSize": 13, "titleFontStyle": "italic", "titleAngle": 270, "titleX": -42, "titleY": 82}},
      "detail": {"field": "s"}}},
    {"mark": {"type": "line", "strokeOpacity": 0},
     "encoding": {
      "x": {"field": "x", "type": "quantitative", "scale": {"domain": [0, 100], "nice": false, "zero": false}, "axis": {"orient": "top", "values": [0,20,40,60,80,100], "tickSize": 4, "labels": false, "title": "(nA)", "titleX": 73, "titleY": 160}},
      "y": {"field": "y", "type": "quantitative", "scale": {"domain": [-0.006, 0.285], "nice": false, "zero": false}, "axis": {"orient": "right", "values": [0,0.1,0.2], "tickSize": 4, "labels": false, "title": "(h/e²)", "titleFontSize": 20, "titleAngle": 270, "titleX": -201, "titleY": 63}},
      "detail": {"field": "s"}}},
    {"mark": {"type": "line", "strokeOpacity": 0},
     "encoding": {
      "x": {"field": "x", "type": "quantitative", "scale": {"domain": [0, 100], "nice": false, "zero": false}, "axis": {"orient": "top", "values": [0,20,40,60,80,100], "tickSize": -4, "labels": false, "domain": false, "title": null}},
      "y": {"field": "y", "type": "quantitative", "scale": {"domain": [-0.006, 0.285], "nice": false, "zero": false}, "axis": {"orient": "right", "values": [0,0.1,0.2], "tickSize": -4, "labels": false, "domain": false, "title": null}},
      "detail": {"field": "s"}}}
   ],
   "resolve": {"axis": {"x": "independent", "y": "independent"}}
  }
 ], "spacing": 85, "bounds": "flush"},
 {"width": 641, "height": 227, "data": {"name": "b"},
   "title": {"text": "b.", "anchor": "start", "frame": "group", "dx": -56, "dy": 36, "offset": 0, "font": "Liberation Serif", "fontSize": 17, "fontWeight": "normal", "color": "#1a1a1a", "baseline": "alphabetic"},
   "layer": [
    {"mark": {"type": "line", "strokeWidth": 1.1, "color": "#1a1a1a", "clip": true},
     "encoding": {
      "x": {"field": "x", "type": "quantitative", "scale": {"domain": [-50, 50], "range": [10, 641], "nice": false, "zero": false}, "axis": {"orient": "bottom", "values": [-40,-20,0,20,40], "tickSize": 5, "labelPadding": 6, "labelExpr": "datum.value < 0 ? '-' + (-datum.value) : '' + datum.value", "title": "I", "titleFontStyle": "italic", "titleX": 293, "titleY": 48}},
      "y": {"field": "y", "type": "quantitative", "scale": {"domain": [0.6, 1.045], "nice": false, "zero": false}, "axis": {"orient": "left", "offset": -10, "values": [0.6,0.7,0.8,0.9,1.0], "tickSize": 5, "labelPadding": 5, "labelExpr": "replace(format(datum.value, '.1f'), '.', ',')", "title": "r", "titleFontSize": 20, "titleFontStyle": "italic", "titleAngle": 270, "titleX": -43, "titleY": 146}},
      "detail": {"field": "s"}}},
    {"mark": {"type": "line", "strokeOpacity": 0},
     "encoding": {
      "x": {"field": "x", "type": "quantitative", "scale": {"domain": [-50, 50], "range": [10, 641], "nice": false, "zero": false}, "axis": {"orient": "bottom", "values": [-40,-20,0,20,40], "tickSize": -5, "labels": false, "domain": false, "title": "dc", "titleFontSize": 12, "titleX": 298, "titleY": 51}},
      "y": {"field": "y", "type": "quantitative", "scale": {"domain": [0.6, 1.045], "nice": false, "zero": false}, "axis": {"orient": "left", "offset": -10, "values": [0.6,0.7,0.8,0.9,1.0], "tickSize": -5, "labels": false, "domain": false, "title": "d", "titleFontSize": 13, "titleFontStyle": "italic", "titleAngle": 270, "titleX": -39, "titleY": 135}},
      "detail": {"field": "s"}}},
    {"mark": {"type": "line", "strokeOpacity": 0},
     "encoding": {
      "x": {"field": "x", "type": "quantitative", "scale": {"domain": [-50, 50], "range": [10, 641], "nice": false, "zero": false}, "axis": {"orient": "top", "values": [-40,-20,0,20,40], "tickSize": 5, "labels": false, "title": "(nA)", "titleX": 315, "titleY": 275}},
      "y": {"field": "y", "type": "quantitative", "scale": {"domain": [0.6, 1.045], "nice": false, "zero": false}, "axis": {"orient": "right", "values": [0.6,0.7,0.8,0.9,1.0], "tickSize": 5, "labels": false, "title": "(h/e²)", "titleFontSize": 20, "titleAngle": 270, "titleX": -674, "titleY": 125}},
      "detail": {"field": "s"}}},
    {"mark": {"type": "line", "strokeOpacity": 0},
     "encoding": {
      "x": {"field": "x", "type": "quantitative", "scale": {"domain": [-50, 50], "range": [10, 641], "nice": false, "zero": false}, "axis": {"orient": "top", "values": [-40,-20,0,20,40], "tickSize": -5, "labels": false, "domain": false, "title": null}},
      "y": {"field": "y", "type": "quantitative", "scale": {"domain": [0.6, 1.045], "nice": false, "zero": false}, "axis": {"orient": "right", "values": [0.6,0.7,0.8,0.9,1.0], "tickSize": -5, "labels": false, "domain": false, "title": null}},
      "detail": {"field": "s"}}}
   ],
   "resolve": {"axis": {"x": "independent", "y": "independent"}}
 }
],
"spacing": 187,
"bounds": "flush"
}
